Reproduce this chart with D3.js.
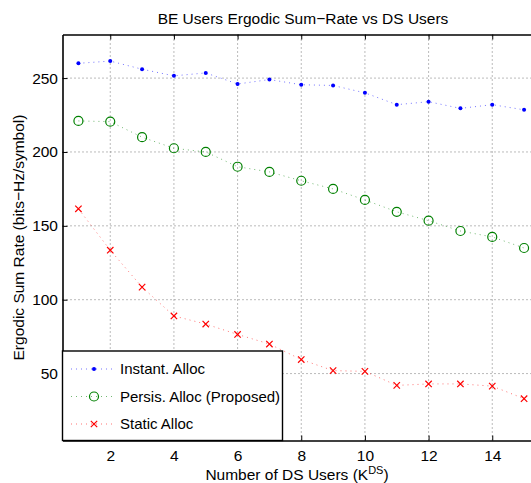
<!DOCTYPE html>
<html>
<head>
<meta charset="utf-8">
<script src="https://cdn.jsdelivr.net/npm/d3@7"></script>
<style>
  html, body { margin: 0; padding: 0; background: #fff; }
  svg { display: block; font-family: "Liberation Sans", Arial, sans-serif; }
</style>
</head>
<body>
<div id="chart"></div>
<script>
// data
const users = [1, 2, 3, 4, 5, 6, 7, 8, 9, 10, 11, 12, 13, 14, 15];
const instantAlloc = [260, 261.5, 256, 251.5, 253.5, 246, 249, 245.5, 245, 240, 232, 234, 229.5, 232, 228.5];
const persisAlloc = [221, 220.5, 210, 202.5, 200, 190, 186.5, 180.5, 175, 167.5, 159.5, 153.5, 146.5, 142.5, 135];
const staticAlloc = [161.5, 133.5, 108.5, 89, 83.5, 76.5, 70, 59.5, 52, 51.5, 42, 43, 43, 41.5, 33];
const xTicks = [2, 4, 6, 8, 10, 12, 14];
const yTicks = [50, 100, 150, 200, 250];

const seriesNames = ['Instant. Alloc', 'Persis. Alloc (Proposed)', 'Static Alloc'];
const seriesColors = ['#0000ff', '#008000', '#ff0000'];
const seriesMarkers = ['dot', 'circle', 'cross'];

const width = 531, height = 483;
const margin = { top: 34.5, left: 62.5, bottom: 42.5 };
const plotRight = 540; // axes run past the crop on the right
const fontSize = 15.5;

const svg = d3.select('#chart').append('svg')
  .attr('width', width)
  .attr('height', height);

const x = d3.scaleLinear().domain([0.5, 15.5]).range([margin.left, plotRight]);
const y = d3.scaleLinear().domain([4.7, 279.5]).range([height - margin.bottom, margin.top]);

// grid
const grid = svg.append('g').attr('stroke', '#555').attr('stroke-width', 0.8).attr('stroke-dasharray', '1,3');
xTicks.forEach(t => {
  grid.append('line').attr('x1', x(t)).attr('x2', x(t)).attr('y1', y.range()[0]).attr('y2', y.range()[1]);
});
yTicks.forEach(t => {
  grid.append('line').attr('x1', x.range()[0]).attr('x2', x.range()[1]).attr('y1', y(t)).attr('y2', y(t));
});

// series
const series = [instantAlloc, persisAlloc, staticAlloc];
const line = d3.line().x((d, i) => x(users[i])).y(d => y(d));

function drawMarker(g, type, color, cx, cy) {
  if (type === 'dot') {
    g.append('circle').attr('cx', cx).attr('cy', cy).attr('r', 2).attr('fill', color);
  } else if (type === 'circle') {
    g.append('circle').attr('cx', cx).attr('cy', cy).attr('r', 4.5)
      .attr('fill', 'none').attr('stroke', color).attr('stroke-width', 1.2);
  } else {
    const s = 3.2;
    g.append('path')
      .attr('d', `M${cx - s},${cy - s}L${cx + s},${cy + s}M${cx - s},${cy + s}L${cx + s},${cy - s}`)
      .attr('stroke', color).attr('stroke-width', 1.2).attr('fill', 'none');
  }
}

series.forEach((vals, k) => {
  const g = svg.append('g');
  g.append('path')
    .attr('d', line(vals))
    .attr('fill', 'none')
    .attr('stroke', seriesColors[k])
    .attr('stroke-opacity', 0.55)
    .attr('stroke-width', 1)
    .attr('stroke-dasharray', '1,4');
  vals.forEach((v, i) => drawMarker(g, seriesMarkers[k], seriesColors[k], x(users[i]), y(v)));
});

// axes
const xAxis = svg.append('g')
  .attr('transform', `translate(0,${y.range()[0]})`)
  .call(d3.axisBottom(x).tickValues(xTicks).tickSizeInner(-5).tickSizeOuter(0).tickPadding(9));
const yAxis = svg.append('g')
  .attr('transform', `translate(${x.range()[0]},0)`)
  .call(d3.axisLeft(y).tickValues(yTicks).tickSizeInner(-5).tickSizeOuter(0).tickPadding(4.5));
const topAxis = svg.append('g')
  .attr('transform', `translate(0,${y.range()[1]})`)
  .call(d3.axisTop(x).tickValues(xTicks).tickSizeInner(-5).tickSizeOuter(0).tickFormat(''));

[xAxis, yAxis, topAxis].forEach(a => {
  a.select('.domain').attr('stroke', '#000').attr('stroke-width', 1.6);
  a.selectAll('.tick line').attr('stroke', '#000');
  a.selectAll('.tick text').attr('fill', '#000').attr('font-size', fontSize);
});

// legend
const legend = svg.append('g');
legend.append('rect')
  .attr('x', margin.left).attr('y', 351)
  .attr('width', 220).attr('height', y.range()[0] - 351)
  .attr('fill', '#fff').attr('stroke', '#000').attr('stroke-width', 1.4);
seriesNames.forEach((name, k) => {
  const ly = 369 + k * 27.5;
  legend.append('line')
    .attr('x1', 71).attr('x2', 112).attr('y1', ly).attr('y2', ly)
    .attr('stroke', seriesColors[k]).attr('stroke-opacity', 0.55)
    .attr('stroke-dasharray', '1,4');
  drawMarker(legend, seriesMarkers[k], seriesColors[k], 94, ly);
  legend.append('text')
    .attr('x', 120).attr('y', ly).attr('dy', '0.35em')
    .attr('font-size', 15).text(name);
});

// title and labels
svg.append('text')
  .attr('x', 303).attr('y', 24)
  .attr('text-anchor', 'middle').attr('font-size', fontSize)
  .text('BE Users Ergodic Sum\u2212Rate vs DS Users');

const xl = svg.append('text')
  .attr('x', 297).attr('y', 480)
  .attr('text-anchor', 'middle').attr('font-size', fontSize);
xl.append('tspan').text('Number of DS Users (K');
xl.append('tspan').attr('font-size', 11).attr('dy', -6).text('DS');
xl.append('tspan').attr('dy', 6).text(')');

svg.append('text')
  .attr('transform', `translate(24,${(y.range()[0] + y.range()[1]) / 2}) rotate(-90)`)
  .attr('text-anchor', 'middle').attr('font-size', fontSize)
  .text('Ergodic Sum Rate (bits\u2212Hz/symbol)');
</script>
</body>
</html>
